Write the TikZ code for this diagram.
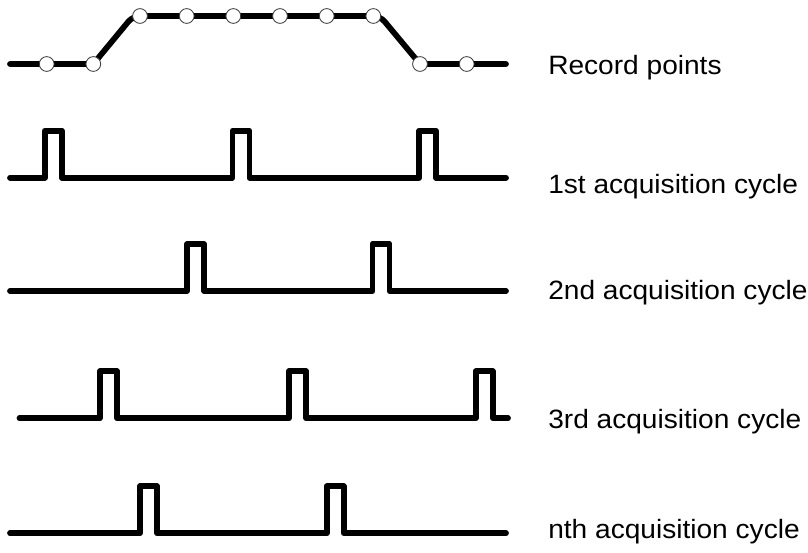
\documentclass[tikz,border=0pt]{standalone}
\usepackage{fontspec}
\setmainfont[FakeStretch=1.06]{Liberation Sans}
\usepackage{tikz}

\tikzset{
  rec/.style={circle, draw=black!75, fill=white, line width=0.6pt, minimum size=10.5pt, inner sep=0pt},
  lbl/.style={anchor=base west, inner sep=0pt, font=\fontsize{18.85pt}{22pt}\selectfont},
  wave/.style={line width=4.1pt, line join=round, line cap=round}
}

\begin{document}
\begin{tikzpicture}[x=0.025cm, y=-0.025cm]
          \useasboundingbox (0,0) rectangle (808,552);
          \coordinate (RecA) at (10,64);
          \coordinate (RecB) at (506,64);
          \draw[wave, rounded corners=5pt] (RecA) -- (93.3,64) -- (133,16) -- (380,16) -- (420,64) -- (RecB);
          \foreach \x/\y [count=\i] in {46.7/64, 93.3/64, 140/16, 186.7/16, 233.3/16, 280/16, 326.7/16, 373.3/16, 420/64, 466.7/64}
            \node[rec] (r\i) at (\x,\y) {};
          \foreach \y/\s/\e/\ps [count=\k] in {177.7/10/506/{44.8,232.5,419}, 291/10/506/{187,372.5}, 418.3/19.5/508/{100,289,475.7}, 533.3/10/506/{140,326.7}} {
            \coordinate (A\k) at (\s,\y);
            \coordinate (B\k) at (\e,\y);
            \draw[wave] (A\k) \foreach \p in \ps { -- (\p,\y) -- (\p,\y-47) -- (\p+17,\y-47) -- (\p+17,\y) } -- (B\k);
          }
          \node[lbl] (Rec) at (548,74) {Record points};
          \node[lbl] (Cyc1) at (548,193) {1st acquisition cycle};
          \node[lbl] (Cyc2) at (548,299) {2nd acquisition cycle};
          \node[lbl] (Cyc3) at (548,428) {3rd acquisition cycle};
          \node[lbl] (CycN) at (548,538) {nth acquisition cycle};
\end{tikzpicture}
\end{document}
